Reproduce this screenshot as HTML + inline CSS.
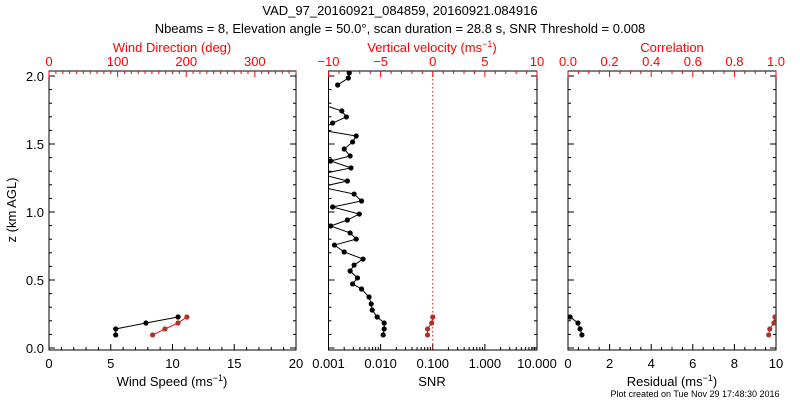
<!DOCTYPE html>
<html><head><meta charset="utf-8"><style>
body{margin:0;background:#fff;width:800px;height:400px;overflow:hidden}
svg{display:block;font-family:"Liberation Sans",sans-serif}
</style></head><body>
<svg id="c" width="800" height="400">
<text x="400" y="15" font-size="13" text-anchor="middle">VAD_97_20160921_084859, 20160921.084916</text>
<text x="400" y="33" font-size="13" text-anchor="middle">Nbeams = 8, Elevation angle = 50.0°, scan duration = 28.8 s, SNR Threshold = 0.008</text>
<text x="16" y="210" font-size="13" text-anchor="middle" transform="rotate(-90 16 210)">z (km AGL)</text>
<text x="695" y="397" font-size="9" text-anchor="middle">Plot created on Tue Nov 29 17:48:30 2016</text>
</svg>
<script>
// Left panel data
const windZ = [0.096, 0.14, 0.184, 0.228];
const windSpeed = [5.4, 5.4, 7.85, 10.45];
const windDirZ = [0.096, 0.14, 0.184, 0.228];
const windDir = [151, 169, 188, 201];
// Middle panel data
const snrZ = [0.096,0.14,0.184,0.228,0.279,0.324,0.375,0.434,0.471,0.515,0.566,0.61,0.654,0.706,0.757,0.801,0.846,0.897,0.941,0.985,1.037,1.081,1.132,1.184,1.228,1.279,1.324,1.375,1.412,1.463,1.515,1.559,1.603,1.654,1.699,1.743,1.794,null,1.934,1.985,2.022];
const snrVals = [0.0112,0.0117,0.0117,0.0086,0.0069,0.0066,0.0060,0.0043,0.0029,0.0036,0.0026,0.0031,0.0046,0.0020,0.0013,0.0034,0.0026,0.0011,0.0023,0.0039,0.0012,0.0043,0.0031,0.0007,0.0023,0.0007,0.0027,0.0011,0.0026,0.0020,0.0029,0.0034,0.0007,0.0012,0.0022,0.0018,0.0007,null,0.0015,0.0024,0.0025];
const wZ = [0.096, 0.14, 0.184, 0.228];
const wVals = [-0.5, -0.5, -0.1, 0.0];
// Right panel data
const resZ = [0.096, 0.14, 0.184, 0.228];
const resVals = [0.67, 0.58, 0.48, 0.1];
const corZ = [0.096, 0.14, 0.184, 0.228];
const corVals = [0.965, 0.97, 0.99, 0.995];

const NS='http://www.w3.org/2000/svg';
const svg=document.getElementById('c');
const Y0=350, YT=71;
const yS=z=>348-z*136;
const RED='#ff0000', MK='#b0302a';
function el(tag,at,parent){const e=document.createElementNS(NS,tag);for(const k in at)e.setAttribute(k,at[k]);(parent||svg).appendChild(e);return e;}
function txt(x,y,s,fill,anchor,size){const t=el('text',{x:x,y:y,'font-size':size||13,fill:fill,'text-anchor':anchor||'middle'});t.textContent=s;return t;}

const panels=[{x0:49,x1:296,name:'wind'},{x0:328.5,x1:537,name:'snr'},{x0:568,x1:776,name:'residual'}];
panels.forEach((p,i)=>{
  const r=el('rect',{x:p.x0,y:YT,width:p.x1-p.x0,height:Y0-YT,fill:'none',stroke:'#000','stroke-width':1});
  
  
  const cp=el('clipPath',{id:'cp'+i});el('rect',{x:p.x0,y:YT,width:p.x1-p.x0,height:Y0-YT},cp);
  // y ticks
  for(let k=0;k<=20;k++){const z=k*0.1,y=yS(z),L=(k%5==0)?6:3;
    el('line',{x1:p.x0,x2:p.x0+L,y1:y,y2:y,stroke:'#000'});
    el('line',{x1:p.x1,x2:p.x1-L,y1:y,y2:y,stroke:'#000'});
    if(i==0&&k%5==0){const t=txt(p.x0-5,y+5,z.toFixed(1),'#000','end');
      
      }
  }
});
function linAxis(p,min,max,major,minor,isTop,color,fmt){
  const sc=v=>p.x0+(v-min)/(max-min)*(p.x1-p.x0);
  const yb=isTop?YT:Y0, dir=isTop?1:-1;
  const n=Math.round((max-min)/minor);
  for(let k=0;k<=n;k++){const v=min+k*minor,x=sc(v);const maj=Math.abs(v/major-Math.round(v/major))<1e-6;
    el('line',{x1:x,x2:x,y1:yb,y2:yb+dir*(maj?6:3),stroke:color});
    if(maj){const t=txt(x,isTop?YT-5:Y0+18,fmt(v),color);
      
      }
  }
  return sc;
}
const P=panels;
const xWS=linAxis(P[0],0,20,5,1,false,'#000',v=>String(v));
const xWD=linAxis(P[0],0,360,100,10,true,RED,v=>v<=300?String(v):'');
const xW=linAxis(P[1],-10,10,5,1,true,RED,v=>v<0?'\u2212'+(-v):String(v));
const xRes=linAxis(P[2],0,10,2,0.5,false,'#000',v=>String(v));
const xCor=linAxis(P[2],0,1,0.2,0.05,true,RED,v=>v.toFixed(1));
// log axis
const xSNR=v=>P[1].x0+(Math.log10(v)+3)/4*(P[1].x1-P[1].x0);
for(let d=-3;d<=1;d++){for(let m=1;m<=9;m++){const v=m*Math.pow(10,d);if(v>10.0001)break;const x=xSNR(v);
  el('line',{x1:x,x2:x,y1:Y0,y2:Y0-(m==1?6:3),stroke:'#000'});
  if(m==1){const t=txt(x,Y0+18,v.toFixed(3),'#000');
    
    }}}
// axis titles
[[172,Y0+36,'Wind Speed (ms','#000','x-axis-title-wind-speed'],[672,Y0+36,'Residual (ms','#000','x-axis-title-residual']].forEach(a=>{
  const t=txt(a[0],a[1],'','#000');t.innerHTML=a[2]+'<tspan dy="-5" font-size="9">\u22121</tspan><tspan dy="5">)</tspan>';
  });
let t=txt(432,Y0+36,'SNR','#000');
t=txt(172,52,'Wind Direction (deg)',RED);
t=txt(432,52,'',RED);t.innerHTML='Vertical velocity (ms<tspan dy="-5" font-size="9">\u22121</tspan><tspan dy="5">)</tspan>';

t=txt(672,52,'Correlation',RED);
// zero line
const zl=el('line',{x1:xW(0),x2:xW(0),y1:YT,y2:Y0,stroke:RED,'stroke-dasharray':'1.5,2.5'});


function series(zs,vs,sx,ci,lineC,mkC,name){
  const g=el('g',{'clip-path':'url(#cp'+ci+')'});
  
  
  let segs=[],cur=[];
  zs.forEach((z,k)=>{if(z==null||vs[k]==null){if(cur.length)segs.push(cur);cur=[];}else cur.push([sx(vs[k]),yS(z)]);});
  if(cur.length)segs.push(cur);
  segs.forEach(s=>{el('polyline',{points:s.map(q=>q.join(',')).join(' '),fill:'none',stroke:lineC,'stroke-width':1},g);
    s.forEach(q=>{const c=el('circle',{cx:q[0],cy:q[1],r:2.6,fill:mkC},g);
      });});
}
series(windZ,windSpeed,xWS,0,'#000','#000','wind-speed-series');
series(windDirZ,windDir,xWD,0,RED,MK,'wind-direction-series');
series(snrZ,snrVals,xSNR,1,'#000','#000','snr-series');
series(wZ,wVals,xW,1,RED,MK,'vertical-velocity-series');
series(resZ,resVals,xRes,2,'#000','#000','residual-series');
series(corZ,corVals,xCor,2,RED,MK,'correlation-series');
</script>
</body></html>
